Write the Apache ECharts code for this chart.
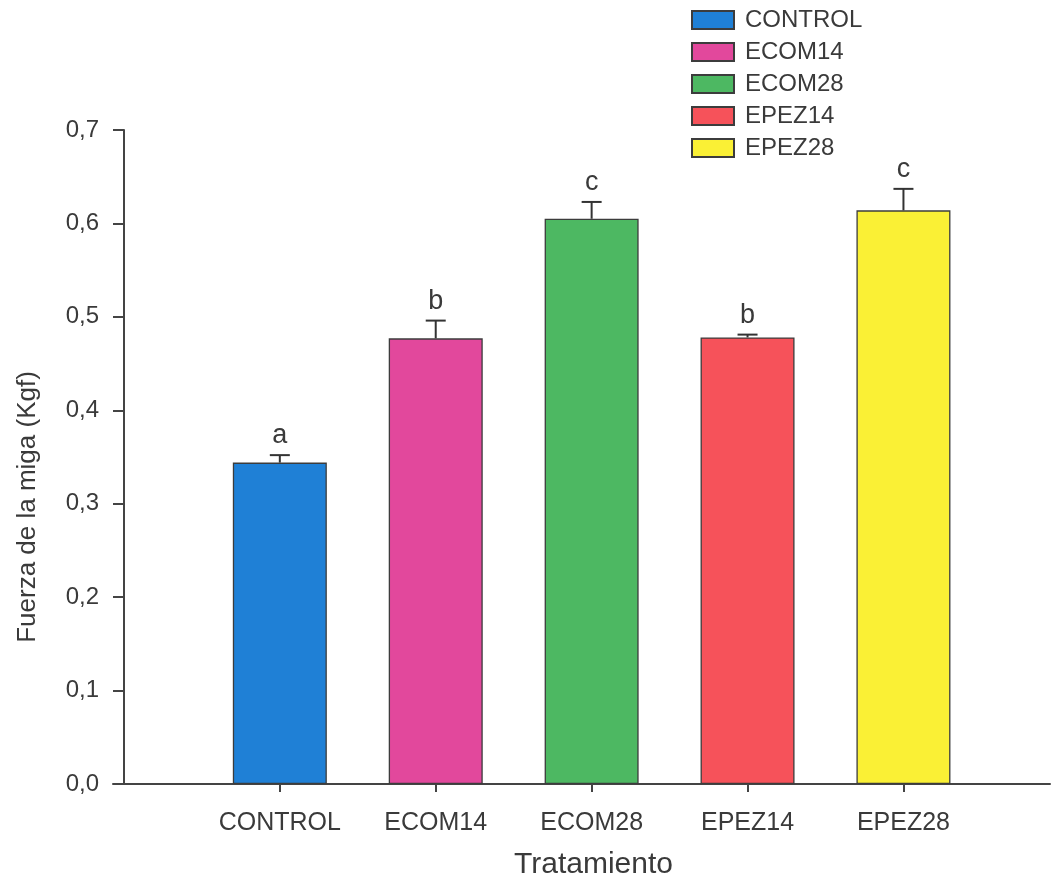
<!DOCTYPE html>
<html>
<head>
<meta charset="utf-8">
<script src="https://cdn.jsdelivr.net/npm/echarts@6/dist/echarts.min.js"></script>
<style>
  html, body { margin: 0; padding: 0; background: #fff; }
  #chart { width: 1055px; height: 892px; }
</style>
</head>
<body>
<div id="chart"></div>
<script>
// datos del gráfico
const categories = ['CONTROL', 'ECOM14', 'ECOM28', 'EPEZ14', 'EPEZ28']
const positions = [1, 2, 3, 4, 5]
const means = [0.344, 0.477, 0.605, 0.478, 0.614]
const errors = [0.008, 0.019, 0.018, 0.003, 0.023]
const letters = ['a', 'b', 'c', 'b', 'c']
const barColors = ['#1f80d6', '#e2489c', '#4db862', '#f6525a', '#faf035']
const yTickLabels = ['0,0', '0,1', '0,2', '0,3', '0,4', '0,5', '0,6', '0,7']

const font = "'Liberation Sans', Arial, sans-serif"
const ink = '#3a3a3a'

const chart = echarts.init(document.getElementById('chart'))

const barSeries = categories.map(function (name, i) {
  return {
    name: name,
    type: 'bar',
    barWidth: 94,
    barGap: '-100%',
    data: [[positions[i], means[i]]],
    itemStyle: { color: barColors[i], borderColor: '#3c3c3c', borderWidth: 1.3 }
  }
})

// barras de error y letras
const errorSeries = {
  type: 'custom',
  z: 5,
  data: positions.map(function (p, i) { return [p, means[i], means[i] + errors[i]] }),
  encode: { x: 0, y: [1, 2] },
  renderItem: function (params, api) {
    const x = api.value(0)
    const base = api.coord([x, api.value(1)])
    const top = api.coord([x, api.value(2)])
    const half = 10
    return {
      type: 'group',
      children: [
        { type: 'line', shape: { x1: base[0], y1: base[1], x2: top[0], y2: top[1] }, style: { stroke: '#333', lineWidth: 2 } },
        { type: 'line', shape: { x1: top[0] - half, y1: top[1], x2: top[0] + half, y2: top[1] }, style: { stroke: '#333', lineWidth: 2 } },
        {
          type: 'text',
          x: top[0],
          y: top[1] - 6,
          style: {
            text: letters[params.dataIndex],
            fill: ink,
            font: '27px ' + font,
            textAlign: 'center',
            textVerticalAlign: 'bottom'
          }
        }
      ]
    }
  }
}

const option = {
  animation: false,
  textStyle: { fontFamily: font, color: ink },
  legend: {
    data: categories,
    left: 686,
    top: 3,
    orient: 'vertical',
    icon: 'rect',
    itemWidth: 42,
    itemHeight: 18,
    itemGap: 8,
    itemTextGap: 5,
    selectedMode: false,
    textStyle: { fontSize: 24, lineHeight: 24, color: ink, fontFamily: font, padding: [0, 0, 0, 6] }
  },
  grid: { left: 113, right: 5, top: 130, bottom: 108 },
  // título del eje x
  graphic: [{
    type: 'text',
    left: 594 - 80,
    top: 850,
    style: { text: 'Tratamiento', font: '30px ' + font, fill: ink }
  }],
  xAxis: {
    type: 'value',
    min: -0.07,
    max: 5.94,
    splitLine: { show: false },
    axisLine: { show: true, onZero: false, lineStyle: { color: '#444', width: 2 } },
    axisTick: { show: true, customValues: positions, length: 8, lineStyle: { color: '#444', width: 2 } },
    axisLabel: {
      customValues: positions,
      margin: 27,
      fontSize: 25,
      color: ink,
      fontFamily: font,
      formatter: function (v) { return categories[positions.indexOf(Math.round(v))] || '' }
    }
  },
  yAxis: {
    type: 'value',
    min: 0,
    max: 0.7,
    interval: 0.1,
    offset: -11,
    splitLine: { show: false },
    axisLine: { show: true, lineStyle: { color: '#444', width: 2 } },
    axisTick: { show: true, length: 11, lineStyle: { color: '#444', width: 2 } },
    axisLabel: {
      margin: 25,
      fontSize: 24,
      color: ink,
      fontFamily: font,
      formatter: function (v) { return yTickLabels[Math.round(v * 10)] }
    },
    name: 'Fuerza de la miga (Kgf)',
    nameLocation: 'middle',
    nameGap: 83,
    nameTextStyle: { fontSize: 26, color: ink, fontFamily: font, padding: [0, 100, 0, 0] }
  },
  series: barSeries.concat([errorSeries])
}

chart.setOption(option)
</script>
</body>
</html>
